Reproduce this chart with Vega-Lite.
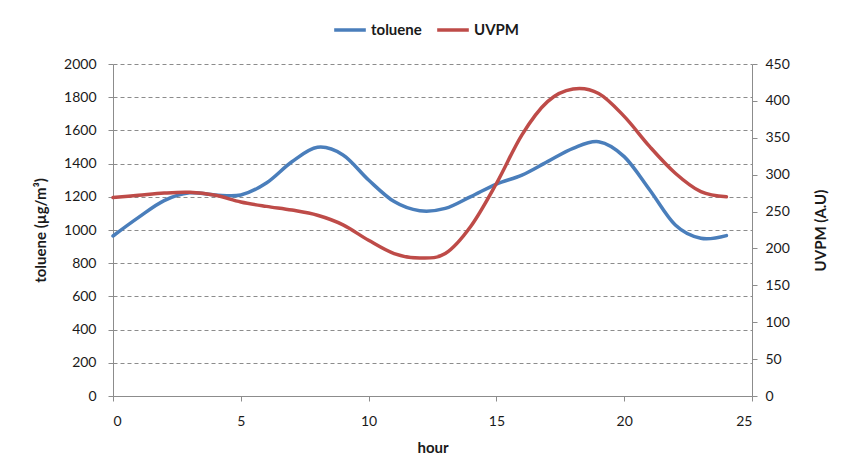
{
  "$schema": "https://vega.github.io/schema/vega-lite/v6.json",
  "autosize": "none",
  "width": 639,
  "height": 332,
  "padding": {"left": 113, "top": 64, "right": 93, "bottom": 66},
  "background": "#ffffff",
  "config": {
    "font": "Lato",
    "view": {"stroke": null},
    "axis": {
      "labelFont": "Lato",
      "labelFontSize": 14,
      "labelColor": "#1a1a1a",
      "titleFont": "Lato",
      "titleFontSize": 15,
      "titleFontWeight": "bold",
      "titleColor": "#1a1a1a",
      "domainColor": "#8c8c8c",
      "tickColor": "#8c8c8c",
      "tickSize": 5,
      "labelPadding": 8
    },
    "legend": {"labelFont": "Lato", "labelFontSize": 15, "labelFontWeight": "bold", "labelColor": "#1a1a1a"}
  },
  "data": {
    "values": [
      {"hour": 0, "toluene": 964, "uvpm": 269},
      {"hour": 1, "toluene": 1076, "uvpm": 272},
      {"hour": 2, "toluene": 1177, "uvpm": 275},
      {"hour": 3, "toluene": 1224, "uvpm": 276},
      {"hour": 4, "toluene": 1211, "uvpm": 272},
      {"hour": 5, "toluene": 1211, "uvpm": 263},
      {"hour": 6, "toluene": 1283, "uvpm": 257},
      {"hour": 7, "toluene": 1411, "uvpm": 252},
      {"hour": 8, "toluene": 1498, "uvpm": 245},
      {"hour": 9, "toluene": 1452, "uvpm": 232},
      {"hour": 10, "toluene": 1301, "uvpm": 211},
      {"hour": 11, "toluene": 1171, "uvpm": 193},
      {"hour": 12, "toluene": 1116, "uvpm": 187},
      {"hour": 13, "toluene": 1130, "uvpm": 193},
      {"hour": 14, "toluene": 1201, "uvpm": 230},
      {"hour": 15, "toluene": 1277, "uvpm": 288},
      {"hour": 16, "toluene": 1331, "uvpm": 354},
      {"hour": 17, "toluene": 1412, "uvpm": 399},
      {"hour": 18, "toluene": 1492, "uvpm": 416},
      {"hour": 19, "toluene": 1532, "uvpm": 410},
      {"hour": 20, "toluene": 1442, "uvpm": 379},
      {"hour": 21, "toluene": 1241, "uvpm": 338},
      {"hour": 22, "toluene": 1030, "uvpm": 302},
      {"hour": 23, "toluene": 950, "uvpm": 277},
      {"hour": 24, "toluene": 966, "uvpm": 270}
    ]
  },
  "encoding": {
    "x": {
      "field": "hour",
      "type": "quantitative",
      "scale": {"domain": [0, 25], "nice": false},
      "axis": {"title": "hour", "values": [0, 5, 10, 15, 20, 25], "grid": false, "titlePadding": 12, "labelPadding": 13}
    }
  },
  "layer": [
    {
      "mark": {"type": "line", "interpolate": "cardinal", "strokeWidth": 3.5, "strokeCap": "round"},
      "encoding": {
        "y": {
          "field": "toluene",
          "type": "quantitative",
          "scale": {"domain": [0, 2000], "nice": false},
          "axis": {
            "title": "toluene (µg/m³)",
            "orient": "left",
            "values": [0, 200, 400, 600, 800, 1000, 1200, 1400, 1600, 1800, 2000],
            "format": "d",
            "grid": true,
            "gridColor": "#8c8c8c",
            "gridDash": [4, 3],
            "gridWidth": 1,
            "labelPadding": 12,
            "titlePadding": 15
          }
        },
        "color": {
          "datum": "toluene",
          "type": "nominal",
          "scale": {"domain": ["toluene", "UVPM"], "range": ["#4A7EBB", "#BE4B48"]},
          "legend": {
            "title": null,
            "orient": "none",
            "direction": "horizontal",
            "legendX": 219,
            "legendY": -52,
            "symbolType": "stroke",
            "symbolStrokeWidth": 3.5,
            "symbolSize": 1000,
            "columnPadding": 8,
            "labelOffset": 3
          }
        }
      }
    },
    {
      "mark": {"type": "line", "interpolate": "cardinal", "strokeWidth": 3.5, "strokeCap": "round"},
      "encoding": {
        "y": {
          "field": "uvpm",
          "type": "quantitative",
          "scale": {"domain": [0, 450], "nice": false},
          "axis": {
            "title": "UVPM (A.U)",
            "orient": "right",
            "values": [0, 50, 100, 150, 200, 250, 300, 350, 400, 450],
            "grid": false,
            "titleAngle": 270,
            "titleBaseline": "top",
            "titlePadding": 24
          }
        },
        "color": {"datum": "UVPM", "type": "nominal"}
      }
    }
  ],
  "resolve": {"scale": {"y": "independent"}}
}
